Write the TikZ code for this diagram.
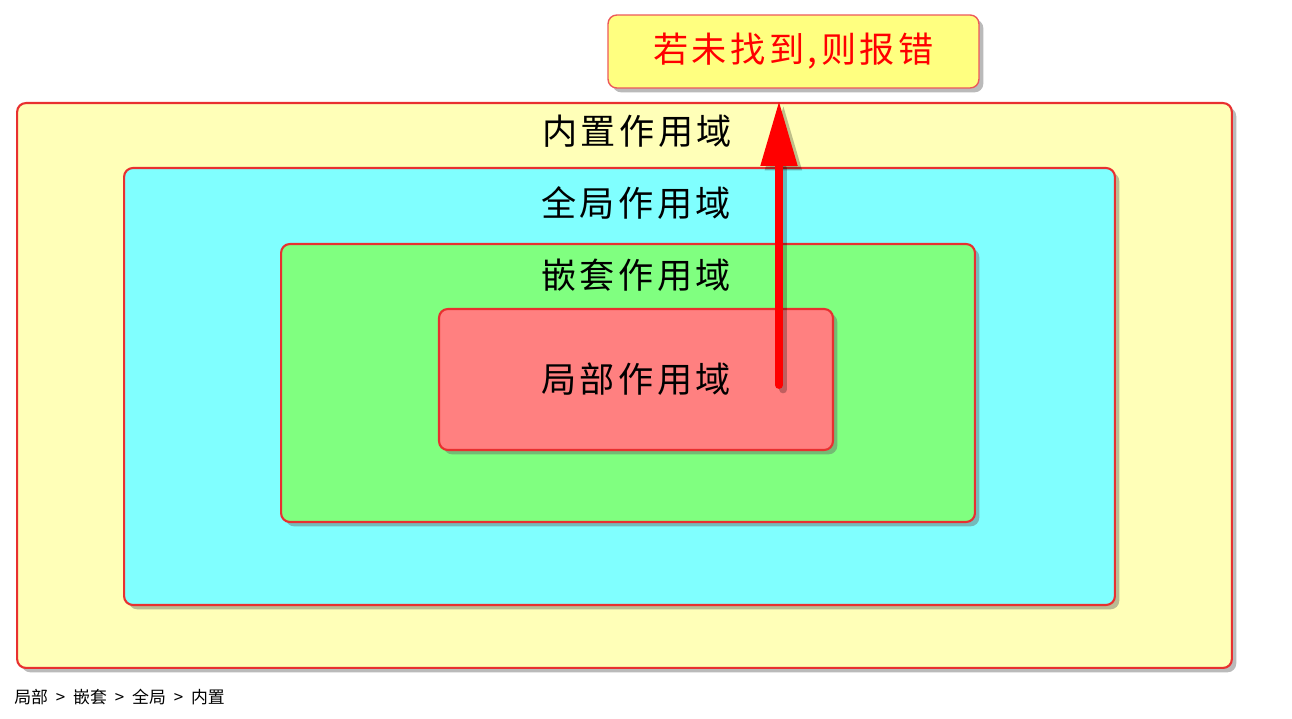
\documentclass[tikz,border=0pt]{standalone}
\usepackage{fontspec}
\setmainfont{Liberation Sans}
\newfontfamily\cjk[LetterSpace=10]{Noto Sans CJK SC}
\newfontfamily\cjksmall{Noto Sans CJK SC}
\usetikzlibrary{shadows,arrows.meta}
\definecolor{outerY}{HTML}{FFFFB8}
\definecolor{topY}{HTML}{FFFF80}
\definecolor{cyanF}{HTML}{80FFFF}
\definecolor{greenF}{HTML}{80FF80}
\definecolor{redF}{HTML}{FF8080}
\definecolor{edgeR}{HTML}{E83030}
\newcommand{\gtsep}{\hspace{4.5pt}>\hspace{4.5pt}}
\tikzset{
  scopebox/.style={draw=edgeR, line width=1.2pt, rounded corners=5pt,
    drop shadow={shadow xshift=2.5pt, shadow yshift=-2.5pt, opacity=0.45, fill=black!60},
    inner sep=0pt},
  scopelabel/.style={font=\cjk\fontsize{20}{22}\selectfont, text=black, inner sep=0pt},
  bigarrow/.style={line width=4.5pt, draw=red, line cap=round,
    -{Triangle[length=37pt, width=20pt]}},
}
\begin{document}
\begin{tikzpicture}[x=0.02cm, y=-0.02cm]
\useasboundingbox (0,0) rectangle (1292,719);
\node (outer) [scopebox, fill=outerY, minimum width=24.3cm, minimum height=11.3cm] at (624.5,385.5) {};
\node (outerlbl) [scopelabel] at (637,131) {内置作用域};
\node (global) [scopebox, fill=cyanF, minimum width=19.82cm, minimum height=8.74cm] at (619.5,386.5) {};
\node (globallbl) [scopelabel] at (636,203) {全局作用域};
\node (nested) [scopebox, fill=greenF, minimum width=13.88cm, minimum height=5.56cm] at (628,383) {};
\node (nestedlbl) [scopelabel] at (636,275) {嵌套作用域};
\node (local) [scopebox, fill=redF, minimum width=7.88cm, minimum height=2.82cm,
  font=\cjk\fontsize{20}{22}\selectfont] at (636,379.5) {局部作用域};
\node (top) [scopebox, fill=topY, draw=edgeR!80, line width=0.8pt,
  minimum width=7.42cm, minimum height=1.46cm, text=red,
  font=\cjk\fontsize{20}{22}\selectfont] at (793.5,51.5) {若未找到,则报错};
\coordinate (start) at (779,385);
\draw[line width=4.5pt, draw=black, opacity=0.25, line cap=round,
  -{Triangle[length=37pt, width=20pt]}, shorten >=7pt, transform canvas={xshift=2.5pt, yshift=-2.5pt}]
  (start) -- (start |- top.south);
\draw[bigarrow, shorten >=7pt] (start) -- (start |- top.south);
\node (path) [anchor=west, inner sep=0pt, font=\cjksmall\fontsize{9.6}{11}\selectfont] at (14,697) {局部\gtsep 嵌套\gtsep 全局\gtsep 内置};
\end{tikzpicture}
\end{document}
